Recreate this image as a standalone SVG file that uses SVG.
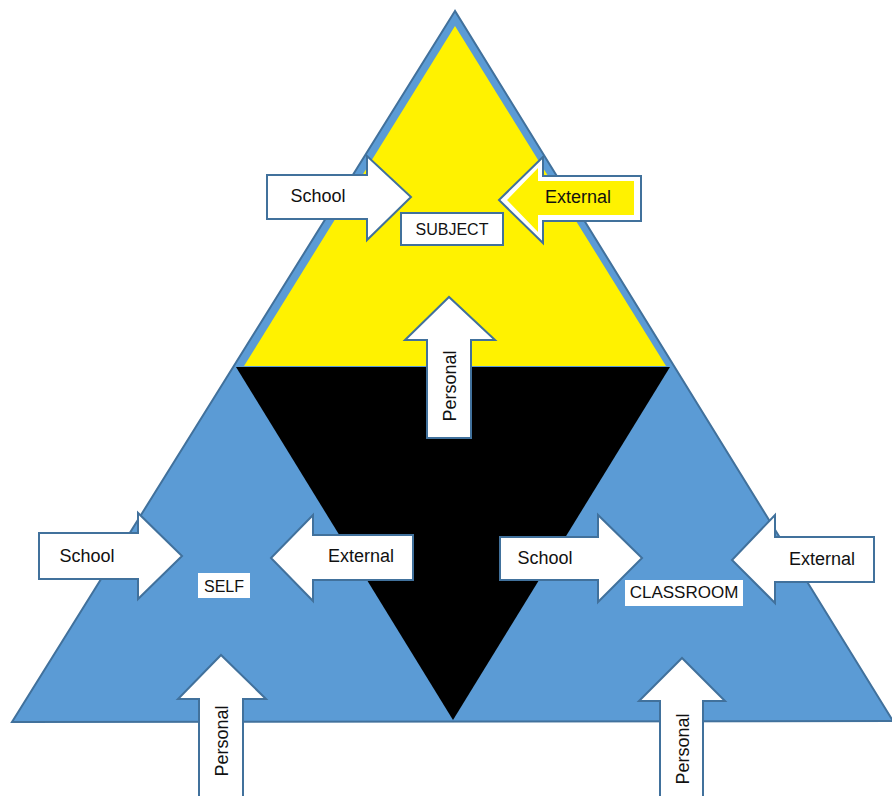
<svg xmlns="http://www.w3.org/2000/svg" width="892" height="796" viewBox="0 0 892 796">
<style>
.arrow{fill:#ffffff;stroke:#41719C;stroke-width:2;stroke-linejoin:miter}
.t{font-family:"Liberation Sans",Arial,sans-serif;font-size:18px;fill:#111;text-anchor:middle}
.lbl{font-family:"Liberation Sans",Arial,sans-serif;font-size:16px;fill:#111;text-anchor:middle}
.lblbox{fill:#ffffff}
</style>
<rect width="892" height="796" fill="#ffffff"/>
<g id="pyramid">
<polygon points="455,11 12,722 893,721" fill="#5B9BD5" stroke="#41719C" stroke-width="2"/>
<polygon points="455,26 244,366 666,366" fill="#FFF200"/>
<polygon points="236,367 670,367 453,720" fill="#000000"/>
</g>
<g id="subject-school">
<path class="arrow" d="M267,175 H367 V156 L411,197 L367,240 V219 H267 Z"/>
<text class="t" x="318" y="202">School</text>
</g>
<g id="subject-external">
<path class="arrow" d="M641,176 H543 V157 L499,200 L543,243 V221 H641 Z"/>
<path d="M634,181 H538 V168 L507,200 L538,232 V215 H634 Z" fill="#FFF200"/>
<text class="t" x="578" y="203">External</text>
</g>
<g id="subject-personal">
<path class="arrow" d="M427,438 V340 H405 L449,297 L495,340 H471 V438 Z"/>
<text class="t" transform="translate(456,386) rotate(-90)">Personal</text>
</g>
<g id="subject">
<rect class="lblbox" x="401" y="213" width="102" height="32" stroke="#41719C" stroke-width="2"/>
<text class="lbl" x="452" y="235">SUBJECT</text>
</g>
<g id="self-school">
<path class="arrow" d="M39,533 H138 V513 L182,556 L138,599 V579 H39 Z"/>
<text class="t" x="87" y="562">School</text>
</g>
<g id="self-external">
<path class="arrow" d="M413,535 H313 V515 L271,558 L313,601 V580 H413 Z"/>
<text class="t" x="361" y="562">External</text>
</g>
<g id="self-personal">
<path class="arrow" d="M199,800 V699 H178 L221,655 L266,699 H243 V800 Z"/>
<text class="t" transform="translate(228,741) rotate(-90)">Personal</text>
</g>
<g id="self">
<rect class="lblbox" x="198" y="573" width="52" height="25"/>
<text class="lbl" x="224" y="592">SELF</text>
</g>
<g id="classroom-school">
<path class="arrow" d="M500,537 H598 V515 L642,558 L598,602 V580 H500 Z"/>
<text class="t" x="545" y="564">School</text>
</g>
<g id="classroom-external">
<path class="arrow" d="M874,537 H775 V515 L732,560 L775,603 V582 H874 Z"/>
<text class="t" x="822" y="565">External</text>
</g>
<g id="classroom-personal">
<path class="arrow" d="M660,800 V701 H639 L682,658 L725,701 H703 V800 Z"/>
<text class="t" transform="translate(689,749) rotate(-90)">Personal</text>
</g>
<g id="classroom">
<rect class="lblbox" x="625" y="580" width="118" height="26"/>
<text class="lbl" x="684" y="598" style="font-size:17px">CLASSROOM</text>
</g>
<g id="connectors"></g>
</svg>
